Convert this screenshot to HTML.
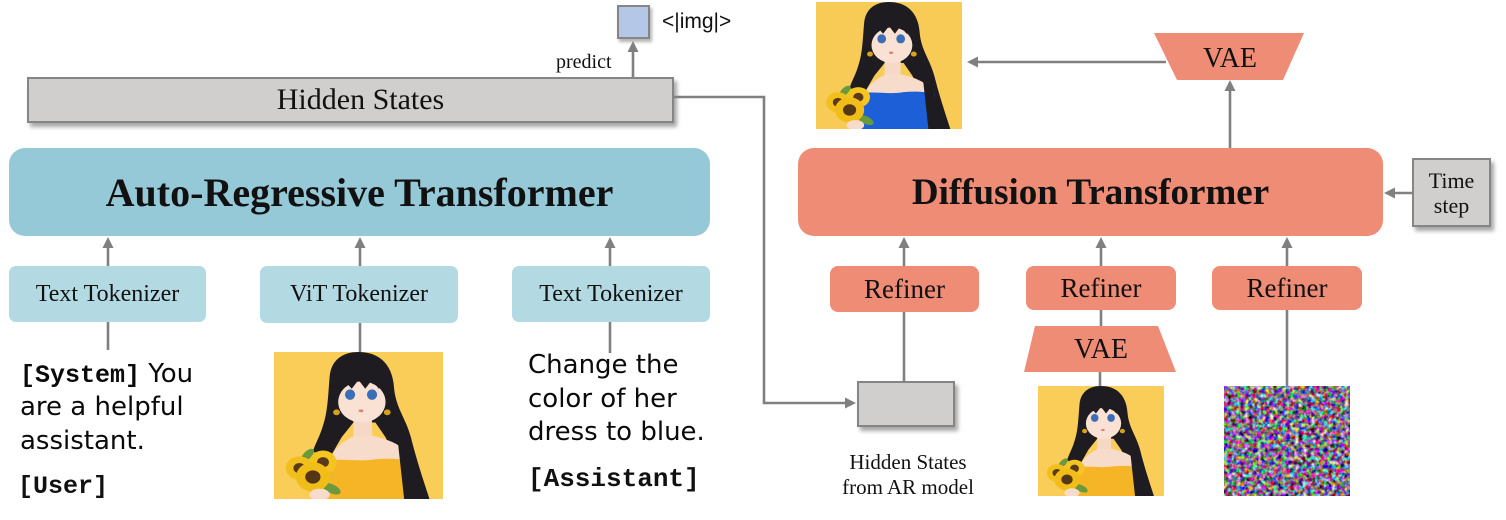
<!DOCTYPE html>
<html><head><meta charset="utf-8">
<style>
html,body{margin:0;padding:0;background:#fff;}
#c{position:relative;width:1506px;height:520px;overflow:hidden;background:#fff;font-family:"Liberation Serif",serif;color:#111;}
.a{position:absolute;box-sizing:border-box;}
.ctr{display:flex;align-items:center;justify-content:center;text-align:center;}
.gray{background:#d0cfcd;border:2px solid #858585;box-shadow:3px 4px 4px rgba(0,0,0,0.35);}
.tok{background:#b3dae3;border-radius:7px;font-size:24px;}
.ref{background:#ee8c76;border-radius:8px;font-size:27px;}
.comic{font-family:"DejaVu Sans",sans-serif;font-size:26px;line-height:27px;white-space:nowrap;color:#0a0a0a;}
.mono{font-family:"Liberation Mono",monospace;font-weight:bold;font-size:25px;}
svg{display:block;}
</style></head><body>
<div id="c">

<!-- Hidden States bar -->
<div class="a gray ctr" style="left:27px;top:77px;width:647px;height:46px;font-size:30px;padding-left:20px;">Hidden States</div>

<!-- img token -->
<div class="a gray" style="left:617px;top:5px;width:33px;height:34px;background:#b4c7e7;box-shadow:2px 3px 3px rgba(0,0,0,0.3);"></div>
<div class="a" style="left:662px;top:9px;font-family:'Liberation Sans',sans-serif;font-size:21px;line-height:26px;">&lt;|img|&gt;</div>
<div class="a" style="left:556px;top:50px;font-size:20px;line-height:24px;">predict</div>

<!-- AR transformer -->
<div class="a ctr" style="left:9px;top:148px;width:701px;height:88px;background:#96c9d8;border-radius:16px;font-weight:bold;font-size:40px;">Auto-Regressive Transformer</div>

<!-- tokenizers -->
<div class="a tok ctr" style="left:9px;top:266px;width:197px;height:56px;">Text Tokenizer</div>
<div class="a tok ctr" style="left:260px;top:266px;width:198px;height:57px;">ViT Tokenizer</div>
<div class="a tok ctr" style="left:512px;top:266px;width:198px;height:56px;">Text Tokenizer</div>

<!-- left text -->
<div class="a comic" style="left:20px;top:361px;"><span class="mono">[System]</span> You</div>
<div class="a comic" style="left:20px;top:394px;">are a helpful</div>
<div class="a comic" style="left:20px;top:428px;">assistant.</div>
<div class="a mono" style="left:18px;top:474px;line-height:25px;">[User]</div>

<!-- right text -->
<div class="a comic" style="left:528px;top:352px;">Change the</div>
<div class="a comic" style="left:528px;top:386px;">color of her</div>
<div class="a comic" style="left:528px;top:419px;">dress to blue.</div>
<div class="a mono" style="left:528px;top:467px;line-height:25px;font-size:26px;">[Assistant]</div>

<!-- girl images -->
<svg class="a" style="left:274px;top:352px;" width="169" height="147" viewBox="0 0 100 100" preserveAspectRatio="none">
<rect width="100" height="100" fill="#f9cd58"/>
<path d="M50 0 C40 0 34 6 33 16 C32 28 32 40 29 50 C27 58 24 63 23 68 L34 70 L40 58 L47 48 L60 48 L66 58 L72 72 L76 100 L92 100 C88 86 84 72 81 58 C78 45 72 38 71 24 C70 8 62 0 50 0 Z" fill="#1f1c21"/>
<rect x="47" y="42" width="11" height="18" fill="#f6d8c6"/>
<path d="M32 76 C35 65 42 60 48 57 L58 57 C66 59 74 62 78 68 L80 76 Z" fill="#f8dccb"/>
<ellipse cx="52" cy="34" rx="14" ry="14" fill="#f9e2d3"/>
<path d="M36 26 C36 9 44 4 52 4 C61 4 68 9 68 26 L65 21 L62 25 L58 19 L54 25 L50 19 L46 25 L42 20 L39 26 Z" fill="#1f1c21"/>
<path d="M35 24 L38 24 L37 46 L33 50 Z M66 24 L69 24 L71 48 L67 46 Z" fill="#1f1c21"/>
<ellipse cx="45" cy="29" rx="3" ry="3.6" fill="#3a6fb8"/>
<ellipse cx="58" cy="29" rx="3" ry="3.6" fill="#3a6fb8"/>
<ellipse cx="51.5" cy="40" rx="1.5" ry="1" fill="#d9867a"/>
<circle cx="37" cy="41" r="2" fill="#d6a21c"/>
<circle cx="67" cy="41" r="2" fill="#d6a21c"/>
<path d="M31 74 C40 72 50 75 60 73 C68 72 76 73 81 74 L84 100 L30 100 Z" fill="#f6b526"/>
<path d="M73 58 L78 58 L86 100 L77 100 Z" fill="#1f1c21"/>
<ellipse cx="34" cy="93" rx="6" ry="3" fill="#6a9a3c" transform="rotate(30 34 93)"/>
<ellipse cx="20" cy="70" rx="5" ry="2.5" fill="#6a9a3c" transform="rotate(-50 20 70)"/>
<circle cx="15" cy="79" r="8" fill="#f2c01c"/>
<circle cx="15" cy="79" r="3.5" fill="#5a3a1a"/>
<circle cx="29" cy="75" r="8" fill="#f4c520"/>
<circle cx="29" cy="75" r="3.5" fill="#5a3a1a"/>
<circle cx="23" cy="85" r="10" fill="#f1bd18"/>
<circle cx="23" cy="85" r="4.5" fill="#553615"/>
<ellipse cx="27" cy="97" rx="6" ry="4" fill="#f8dccb"/>
</svg>

<svg class="a" style="left:816px;top:2px;" width="146" height="127" viewBox="0 0 100 100" preserveAspectRatio="none">
<rect width="100" height="100" fill="#f8cb57"/>
<path d="M50 0 C40 0 34 6 33 16 C32 28 32 40 29 50 C27 58 24 63 23 68 L34 70 L40 58 L47 48 L60 48 L66 58 L72 72 L76 100 L92 100 C88 86 84 72 81 58 C78 45 72 38 71 24 C70 8 62 0 50 0 Z" fill="#1f1c21"/>
<rect x="47" y="42" width="11" height="18" fill="#f6d8c6"/>
<path d="M32 76 C35 65 42 60 48 57 L58 57 C66 59 74 62 78 68 L80 76 Z" fill="#f8dccb"/>
<ellipse cx="52" cy="34" rx="14" ry="14" fill="#f9e2d3"/>
<path d="M36 26 C36 9 44 4 52 4 C61 4 68 9 68 26 L65 21 L62 25 L58 19 L54 25 L50 19 L46 25 L42 20 L39 26 Z" fill="#1f1c21"/>
<path d="M35 24 L38 24 L37 46 L33 50 Z M66 24 L69 24 L71 48 L67 46 Z" fill="#1f1c21"/>
<ellipse cx="45" cy="29" rx="3" ry="3.6" fill="#3a6fb8"/>
<ellipse cx="58" cy="29" rx="3" ry="3.6" fill="#3a6fb8"/>
<ellipse cx="51.5" cy="40" rx="1.5" ry="1" fill="#d9867a"/>
<circle cx="37" cy="41" r="2" fill="#d6a21c"/>
<circle cx="67" cy="41" r="2" fill="#d6a21c"/>
<path d="M31 72 C40 70 50 73 60 71 C68 70 76 71 81 72 L84 100 L30 100 Z" fill="#1c5fd6"/>
<path d="M73 58 L78 58 L86 100 L77 100 Z" fill="#1f1c21"/>
<ellipse cx="34" cy="93" rx="6" ry="3" fill="#6a9a3c" transform="rotate(30 34 93)"/>
<ellipse cx="20" cy="70" rx="5" ry="2.5" fill="#6a9a3c" transform="rotate(-50 20 70)"/>
<circle cx="15" cy="79" r="8" fill="#f2c01c"/>
<circle cx="15" cy="79" r="3.5" fill="#5a3a1a"/>
<circle cx="29" cy="75" r="8" fill="#f4c520"/>
<circle cx="29" cy="75" r="3.5" fill="#5a3a1a"/>
<circle cx="23" cy="85" r="10" fill="#f1bd18"/>
<circle cx="23" cy="85" r="4.5" fill="#553615"/>
<ellipse cx="27" cy="97" rx="6" ry="4" fill="#f8dccb"/>
</svg>

<svg class="a" style="left:1038px;top:386px;" width="126" height="110" viewBox="0 0 100 100" preserveAspectRatio="none">
<rect width="100" height="100" fill="#f9cd58"/>
<path d="M50 0 C40 0 34 6 33 16 C32 28 32 40 29 50 C27 58 24 63 23 68 L34 70 L40 58 L47 48 L60 48 L66 58 L72 72 L76 100 L92 100 C88 86 84 72 81 58 C78 45 72 38 71 24 C70 8 62 0 50 0 Z" fill="#1f1c21"/>
<rect x="47" y="42" width="11" height="18" fill="#f6d8c6"/>
<path d="M32 76 C35 65 42 60 48 57 L58 57 C66 59 74 62 78 68 L80 76 Z" fill="#f8dccb"/>
<ellipse cx="52" cy="34" rx="14" ry="14" fill="#f9e2d3"/>
<path d="M36 26 C36 9 44 4 52 4 C61 4 68 9 68 26 L65 21 L62 25 L58 19 L54 25 L50 19 L46 25 L42 20 L39 26 Z" fill="#1f1c21"/>
<path d="M35 24 L38 24 L37 46 L33 50 Z M66 24 L69 24 L71 48 L67 46 Z" fill="#1f1c21"/>
<ellipse cx="45" cy="29" rx="3" ry="3.6" fill="#3a6fb8"/>
<ellipse cx="58" cy="29" rx="3" ry="3.6" fill="#3a6fb8"/>
<ellipse cx="51.5" cy="40" rx="1.5" ry="1" fill="#d9867a"/>
<circle cx="37" cy="41" r="2" fill="#d6a21c"/>
<circle cx="67" cy="41" r="2" fill="#d6a21c"/>
<path d="M31 74 C40 72 50 75 60 73 C68 72 76 73 81 74 L84 100 L30 100 Z" fill="#f6b526"/>
<path d="M73 58 L78 58 L86 100 L77 100 Z" fill="#1f1c21"/>
<ellipse cx="34" cy="93" rx="6" ry="3" fill="#6a9a3c" transform="rotate(30 34 93)"/>
<ellipse cx="20" cy="70" rx="5" ry="2.5" fill="#6a9a3c" transform="rotate(-50 20 70)"/>
<circle cx="15" cy="79" r="8" fill="#f2c01c"/>
<circle cx="15" cy="79" r="3.5" fill="#5a3a1a"/>
<circle cx="29" cy="75" r="8" fill="#f4c520"/>
<circle cx="29" cy="75" r="3.5" fill="#5a3a1a"/>
<circle cx="23" cy="85" r="10" fill="#f1bd18"/>
<circle cx="23" cy="85" r="4.5" fill="#553615"/>
<ellipse cx="27" cy="97" rx="6" ry="4" fill="#f8dccb"/>
</svg>

<!-- noise -->
<svg class="a" style="left:1224px;top:386px;" width="126" height="110">
<filter id="nz" x="0" y="0" width="100%" height="100%" color-interpolation-filters="sRGB">
<feTurbulence type="fractalNoise" baseFrequency="0.24" numOctaves="2" seed="7"/>
<feColorMatrix type="matrix" values="2.2 0 0 0 -0.6  0 2.2 0 0 -0.66  0 0 2.2 0 -0.55  0 0 0 0 1"/>
</filter>
<rect width="126" height="110" filter="url(#nz)"/>
</svg>

<!-- Diffusion transformer -->
<div class="a ctr" style="left:798px;top:148px;width:585px;height:88px;background:#ee8c76;border-radius:16px;font-weight:bold;font-size:37px;">Diffusion Transformer</div>

<!-- Time step -->
<div class="a gray ctr" style="left:1412px;top:158px;width:79px;height:69px;font-size:22px;line-height:25px;">Time<br>step</div>

<!-- refiners -->
<div class="a ref ctr" style="left:830px;top:266px;width:149px;height:46px;">Refiner</div>
<div class="a ref ctr" style="left:1026px;top:266px;width:150px;height:44px;">Refiner</div>
<div class="a ref ctr" style="left:1212px;top:266px;width:150px;height:44px;">Refiner</div>

<!-- hidden small box -->
<div class="a gray" style="left:857px;top:381px;width:98px;height:46px;"></div>
<div class="a" style="left:828px;top:450px;width:160px;text-align:center;font-size:21px;line-height:25px;">Hidden States<br>from AR model</div>

<!-- connectors / shapes -->
<svg class="a" style="left:0;top:0;" width="1506" height="520">
<g fill="#ee8c76">
<polygon points="1154,33 1304,33 1283,80 1177,80"/>
<polygon points="1035,326 1158,326 1176,372 1024,372"/>
</g>
<g font-family="Liberation Serif, serif" font-size="28" fill="#111" text-anchor="middle">
<text x="1230" y="67">VAE</text>
<text x="1101" y="358">VAE</text>
</g>
<g stroke="#808080" stroke-width="2.6" fill="none">
<line x1="633" y1="77" x2="633" y2="50"/>
<polyline points="674,97 764,97 764,403 846,403"/>
<line x1="108" y1="266" x2="108" y2="246"/>
<line x1="360" y1="266" x2="360" y2="246"/>
<line x1="610" y1="266" x2="610" y2="246"/>
<line x1="108" y1="322" x2="108" y2="350"/>
<line x1="360" y1="323" x2="360" y2="352"/>
<line x1="610" y1="322" x2="610" y2="353"/>
<line x1="1230" y1="148" x2="1230" y2="90"/>
<line x1="1166" y1="62" x2="977" y2="62"/>
<line x1="1412" y1="193" x2="1394" y2="193"/>
<line x1="904" y1="266" x2="904" y2="246"/>
<line x1="1101" y1="266" x2="1101" y2="246"/>
<line x1="1287" y1="266" x2="1287" y2="246"/>
<line x1="904" y1="312" x2="904" y2="381"/>
<line x1="1101" y1="310" x2="1101" y2="326"/>
<line x1="1100" y1="372" x2="1100" y2="386"/>
<line x1="1287" y1="310" x2="1287" y2="386"/>
</g>
<g fill="#808080">
<polygon points="633,41 627.5,52 638.5,52"/>
<polygon points="856,403 845,397.5 845,408.5"/>
<polygon points="108,237 102.5,248 113.5,248"/>
<polygon points="360,237 354.5,248 365.5,248"/>
<polygon points="610,237 604.5,248 615.5,248"/>
<polygon points="1230,80 1224.5,91 1235.5,91"/>
<polygon points="967,62 978,56.5 978,67.5"/>
<polygon points="1384,193 1395,187.5 1395,198.5"/>
<polygon points="904,237 898.5,248 909.5,248"/>
<polygon points="1101,237 1095.5,248 1106.5,248"/>
<polygon points="1287,237 1281.5,248 1292.5,248"/>
</g>
</svg>

</div>
</body></html>
